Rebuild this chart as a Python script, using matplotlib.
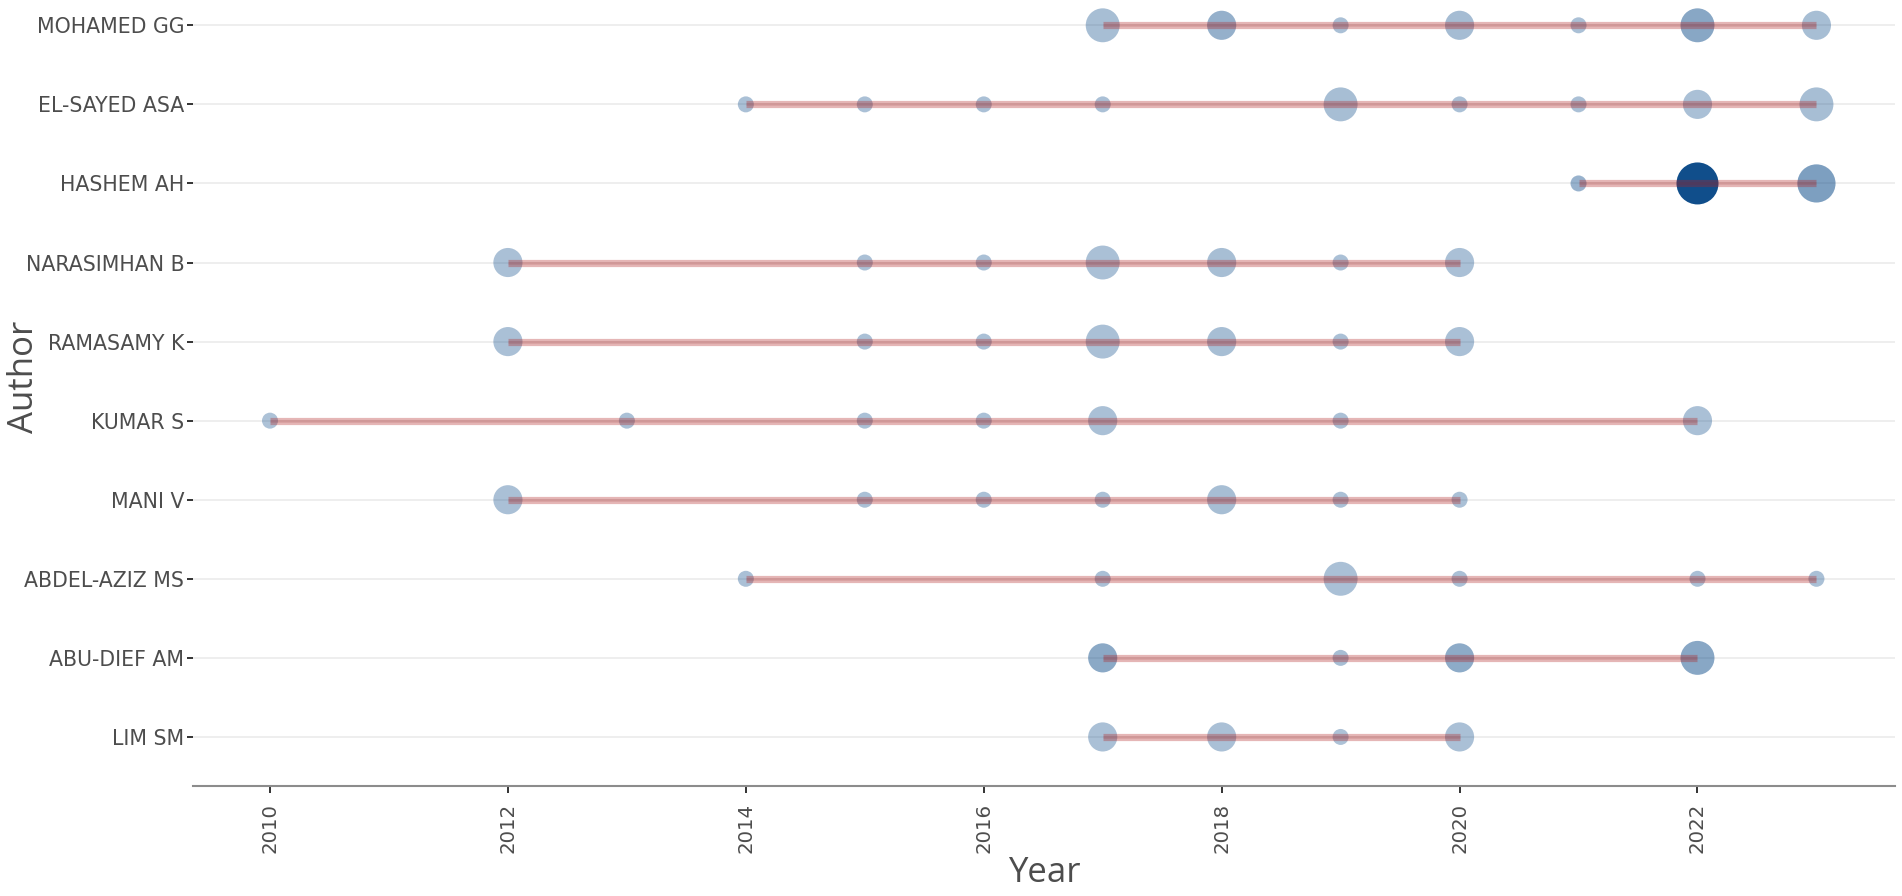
import numpy as np
import matplotlib
matplotlib.use("Agg")
import matplotlib.pyplot as plt

# authors from bottom to top (LIM SM sits at the bottom)
authors = ["LIM SM", "ABU-DIEF AM", "ABDEL-AZIZ MS", "MANI V", "KUMAR S",
           "RAMASAMY K", "NARASIMHAN B", "HASHEM AH", "EL-SAYED ASA", "MOHAMED GG"]

lim_years = [2017, 2018, 2019, 2020]
lim_articles = [3, 3, 1, 3]
lim_tcpy = [2, 2, 1, 2]

abudief_years = [2017, 2019, 2020, 2022]
abudief_articles = [3, 1, 3, 4]
abudief_tcpy = [14, 3, 13, 15]

abdelaziz_years = [2014, 2017, 2019, 2020, 2022, 2023]
abdelaziz_articles = [1, 1, 4, 1, 1, 1]
abdelaziz_tcpy = [2, 2, 2, 2, 2, 2]

mani_years = [2012, 2015, 2016, 2017, 2018, 2019, 2020]
mani_articles = [3, 1, 1, 1, 3, 1, 1]
mani_tcpy = [2, 2, 2, 2, 3, 2, 2]

kumar_years = [2010, 2013, 2015, 2016, 2017, 2019, 2022]
kumar_articles = [1, 1, 1, 1, 3, 1, 3]
kumar_tcpy = [1, 2, 2, 2, 2, 2, 2]

ramasamy_years = [2012, 2015, 2016, 2017, 2018, 2019, 2020]
ramasamy_articles = [3, 1, 1, 4, 3, 1, 3]
ramasamy_tcpy = [2, 2, 2, 2, 3, 2, 2]

narasimhan_years = [2012, 2015, 2016, 2017, 2018, 2019, 2020]
narasimhan_articles = [3, 1, 1, 4, 3, 1, 3]
narasimhan_tcpy = [2, 2, 2, 2, 3, 2, 2]

hashem_years = [2021, 2022, 2023]
hashem_articles = [1, 6, 5]
hashem_tcpy = [9, 60, 19]

elsayed_years = [2014, 2015, 2016, 2017, 2019, 2020, 2021, 2022, 2023]
elsayed_articles = [1, 1, 1, 1, 4, 1, 1, 3, 4]
elsayed_tcpy = [2, 2, 2, 2, 3, 2, 2, 2, 3]

mohamed_years = [2017, 2018, 2019, 2020, 2021, 2022, 2023]
mohamed_articles = [4, 3, 1, 3, 1, 4, 3]
mohamed_tcpy = [3, 10, 2, 4, 2, 15, 3]

series = [
    (lim_years, lim_articles, lim_tcpy),
    (abudief_years, abudief_articles, abudief_tcpy),
    (abdelaziz_years, abdelaziz_articles, abdelaziz_tcpy),
    (mani_years, mani_articles, mani_tcpy),
    (kumar_years, kumar_articles, kumar_tcpy),
    (ramasamy_years, ramasamy_articles, ramasamy_tcpy),
    (narasimhan_years, narasimhan_articles, narasimhan_tcpy),
    (hashem_years, hashem_articles, hashem_tcpy),
    (elsayed_years, elsayed_articles, elsayed_tcpy),
    (mohamed_years, mohamed_articles, mohamed_tcpy),
]

dpi = 100
fig = plt.figure(figsize=(19.02, 8.96), dpi=dpi)
ax = fig.add_axes([0.1013, 0.1228, 0.895, 0.8772])

max_art = max(max(a) for _, a, _ in series)
max_tc = max(max(t) for _, _, t in series)


def bubble_area(n):
    # sqrt scale for bubble diameter, like ggplot's scale_size
    d_px = 16 + 26 * (np.sqrt(n) - 1) / (np.sqrt(max_art) - 1)
    return (d_px * 72 / dpi) ** 2


for i, (years, arts, tcpy) in enumerate(series):
    y = i + 1
    ax.axhline(y, color="#EBEBEB", lw=1.2, zorder=0)
    colors = [(16 / 255, 78 / 255, 139 / 255, 0.33 + 0.67 * t / max_tc) for t in tcpy]
    ax.scatter(years, [y] * len(years), s=[bubble_area(a) for a in arts],
               c=colors, edgecolors="none", zorder=2)
    # author's active period: faint band with a slightly darker core
    ax.plot([min(years), max(years)], [y, y], color="#B22222", alpha=0.33,
            lw=5.2, solid_capstyle="butt", zorder=3)
    ax.plot([min(years), max(years)], [y, y], color="#8B1A1A", alpha=0.12,
            lw=2.2, solid_capstyle="butt", zorder=3)

ax.set_xlim(2009.35, 2023.66)
ax.set_ylim(0.38, 10.32)

ax.set_xticks(np.arange(2010, 2023, 2))
ax.set_yticks(range(1, len(authors) + 1))
ax.set_yticklabels(authors)

for s in ["top", "right", "left"]:
    ax.spines[s].set_visible(False)
ax.spines["bottom"].set_color("#8C8C8C")
ax.spines["bottom"].set_linewidth(1.5)

ax.tick_params(axis="x", length=5, width=1.4, color="#333333", labelsize=14.2,
               labelcolor="#4D4D4D", labelrotation=90, pad=7)
ax.tick_params(axis="y", length=4, width=1.4, color="#333333", labelsize=14.8,
               labelcolor="#4D4D4D", pad=2)

ax.set_xlabel("Year", fontsize=25, color="#4D4D4D", fontfamily="Open Sans", labelpad=2)
ax.set_ylabel("Author", fontsize=25, color="#4D4D4D", fontfamily="Open Sans")
ax.yaxis.set_label_coords(-0.089, 0.52)

fig.savefig("out.png", dpi=dpi, facecolor="white")
